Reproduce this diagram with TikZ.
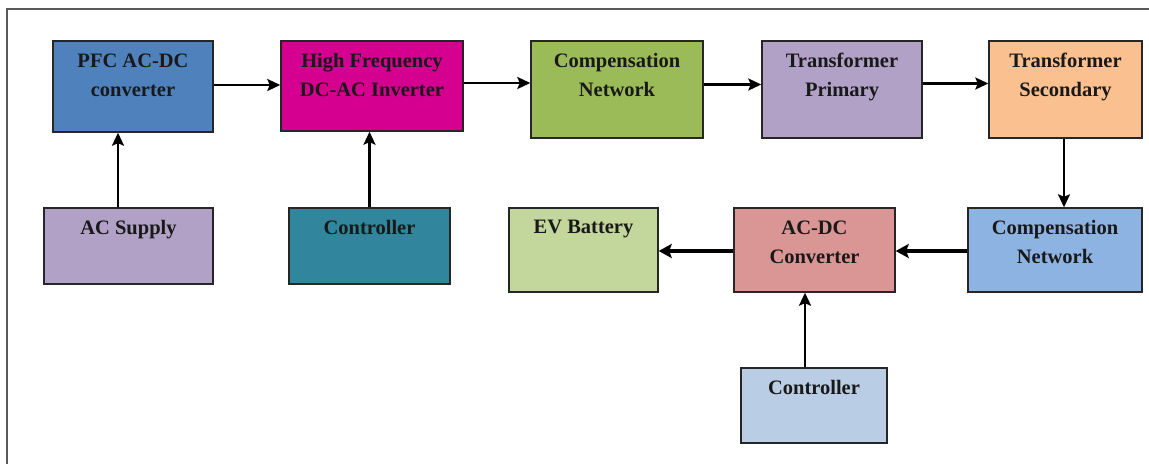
\documentclass[tikz,border=0pt]{standalone}
\usepackage{fontspec}
\setmainfont{Liberation Serif}
\usetikzlibrary{arrows.meta,calc}
\definecolor{cpfc}{HTML}{4F81BD}
\definecolor{chf}{HTML}{D5008F}
\definecolor{ccg}{HTML}{9BBB59}
\definecolor{ctp}{HTML}{B2A1C7}
\definecolor{cts}{HTML}{FAC090}
\definecolor{cacs}{HTML}{B2A1C7}
\definecolor{cctla}{HTML}{31859C}
\definecolor{cev}{HTML}{C3D69B}
\definecolor{cacdc}{HTML}{D99694}
\definecolor{ccb}{HTML}{8DB3E2}
\definecolor{cctlb}{HTML}{B9CDE5}
\definecolor{edge}{HTML}{262626}
\tikzset{
  box/.style={draw=edge, line width=1.4pt, rectangle, inner sep=0pt},
  lbl/.style={anchor=north, inner sep=0pt, align=center, font=\fontsize{20.5}{29}\selectfont\bfseries, text=black!90},
  arr/.style={line width=2.2pt, -{Stealth[length=13pt,width=12pt,inset=2.5pt]}},
  arrb/.style={line width=4pt, -{Stealth[length=13pt,width=14pt,inset=2.5pt]}},
  frame/.style={draw=black!65, line width=1.5pt}
}
\begin{document}
\begin{tikzpicture}[x=1pt,y=-1pt]
\useasboundingbox (0,0) rectangle (1149,464);
\coordinate (f1) at (1149,9);
\coordinate (f2) at (7,9);
\coordinate (f3) at (7,464);
\draw[frame] (f1) -- (f2) -- (f3);

\node[box, fill=cpfc, minimum width=160pt, minimum height=91pt] (pfc) at (133,86.5) {};
\node[box, fill=chf, minimum width=182pt, minimum height=90pt] (hf) at (372,86) {};
\node[box, fill=ccg, minimum width=172pt, minimum height=97pt] (cg) at (617,89.5) {};
\node[box, fill=ctp, minimum width=160pt, minimum height=97pt] (tp) at (842,89.5) {};
\node[box, fill=cts, minimum width=153pt, minimum height=97pt] (ts) at (1065.5,89.5) {};
\node[box, fill=cacs, minimum width=169pt, minimum height=76pt] (acs) at (128.5,246) {};
\node[box, fill=cctla, minimum width=161pt, minimum height=76pt] (ctla) at (369.5,246) {};
\node[box, fill=cev, minimum width=149pt, minimum height=84pt] (ev) at (583.5,250) {};
\node[box, fill=cacdc, minimum width=161pt, minimum height=84pt] (acdc) at (814.5,250) {};
\node[box, fill=ccb, minimum width=174pt, minimum height=84pt] (cb) at (1055,250) {};
\node[box, fill=cctlb, minimum width=146pt, minimum height=75pt] (ctlb) at (814,405.5) {};

\node[lbl] (tpfc) at ([yshift=-13pt]pfc.north) {PFC AC-DC\\converter};
\node[lbl] (thf) at ([yshift=-13pt]hf.north) {High Frequency\\DC-AC Inverter};
\node[lbl] (tcg) at ([yshift=-13pt]cg.north) {Compensation\\Network};
\node[lbl] (ttp) at ([yshift=-13pt]tp.north) {Transformer\\Primary};
\node[lbl] (tts) at ([yshift=-13pt]ts.north) {Transformer\\Secondary};
\node[lbl] (tacs) at ([yshift=-13pt]acs.north) {AC Supply};
\node[lbl] (tctla) at ([yshift=-13pt]ctla.north) {Controller};
\node[lbl] (tev) at ([yshift=-13pt]ev.north) {EV Battery};
\node[lbl] (tacdc) at ([yshift=-13pt]acdc.north) {AC-DC\\Converter};
\node[lbl] (tcb) at ([yshift=-13pt]cb.north) {Compensation\\Network};
\node[lbl] (tctlb) at ([yshift=-13pt]ctlb.north) {Controller};

\draw[arr] ([yshift=1.5pt]pfc.east) -- ([yshift=1.5pt]pfc.east -| hf.west);
\draw[arr] ([yshift=3pt]hf.east) -- ([yshift=3pt]hf.east -| cg.west);
\draw[arr] ([yshift=5pt]cg.east) -- ([yshift=5pt]cg.east -| tp.west);
\draw[arr] ([yshift=6pt]tp.east) -- ([yshift=6pt]tp.east -| ts.west);
\draw[arr] ([xshift=-1.5pt]ts.south) -- ([xshift=-1.5pt]ts.south |- cb.north);
\draw[arrb] ([yshift=-1pt]cb.west) -- ([yshift=-1pt]cb.west -| acdc.east);
\draw[arrb] ([yshift=-1pt]acdc.west) -- ([yshift=-1pt]acdc.west -| ev.east);
\draw[arr] ([xshift=-10.5pt]acs.north) -- ([xshift=-10.5pt]acs.north |- pfc.south);
\draw[arr] (ctla.north) -- (ctla.north |- hf.south);
\draw[arr] ([xshift=-9pt]ctlb.north) -- ([xshift=-9pt]ctlb.north |- acdc.south);
\end{tikzpicture}
\end{document}
